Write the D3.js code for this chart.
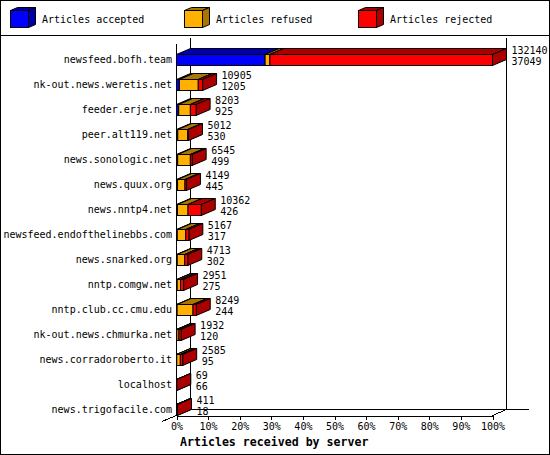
<!DOCTYPE html>
<html>
<head>
<meta charset="utf-8">
<script src="https://cdn.jsdelivr.net/npm/d3@7"></script>
<style>
  body { margin: 0; background: #fff; }
  svg text { font-family: "DejaVu Sans Mono", monospace; font-size: 10px; fill: #000; }
</style>
</head>
<body>
<div id="chart"></div>
<script>
// hosts, top to bottom
const hosts = [
  "newsfeed.bofh.team", "nk-out.news.weretis.net", "feeder.erje.net",
  "peer.alt119.net", "news.sonologic.net", "news.quux.org", "news.nntp4.net",
  "newsfeed.endofthelinebbs.com", "news.snarked.org", "nntp.comgw.net",
  "nntp.club.cc.cmu.edu", "nk-out.news.chmurka.net", "news.corradoroberto.it",
  "localhost", "news.trigofacile.com"
];
const accepted = [37049, 1205, 925, 530, 499, 445, 426, 317, 302, 275, 244, 120, 95, 66, 18];
// refused / rejected
const refused  = [2000, 7900, 4880, 4180, 5300, 3100, 4400, 3550, 3100, 1400, 6670, 900, 1500, 0, 50];
const rejected = [93091, 1800, 2398, 302, 746, 604, 5536, 1300, 1311, 1276, 1335, 912, 990, 3, 343];
const seriesNames = ["Articles accepted", "Articles refused", "Articles rejected"];
const percentTicks = [0, 10, 20, 30, 40, 50, 60, 70, 80, 90, 100];

const colors = [
  {front: "#0000ff", dark: "#0000aa"},
  {front: "#ffb000", dark: "#aa7500"},
  {front: "#ff0000", dark: "#aa0000"}
];

const W = 550, H = 455;
const dx = 14, dy = -6;      // depth of the 3d bars
const barHalf = 5.5;

let svg = d3.select("#chart").append("svg")
  .attr("width", W)
  .attr("height", H)
  .style("display", "block");

// frame + legend separator
svg.append("rect")
  .attr("x", 0.5).attr("y", 0.5)
  .attr("width", W - 1).attr("height", H - 1)
  .attr("fill", "#fff").attr("stroke", "#000");
svg.append("line")
  .attr("x1", 0).attr("x2", W).attr("y1", 35.5).attr("y2", 35.5)
  .attr("stroke", "#000");

// legend cubes
let legendX = [10, 184, 358];
let legend = svg.append("g").attr("class", "legend");
seriesNames.forEach((name, i) => {
  let x0 = legendX[i] + 0.5, y0 = 10.5, w = 18, h = 17, ldx = 7, ldy = -3;
  let g = legend.append("g");
  g.append("polygon")
    .attr("points", [[x0, y0], [x0 + w, y0], [x0 + w + ldx, y0 + ldy], [x0 + ldx, y0 + ldy]].join(" "))
    .attr("fill", colors[i].dark).attr("stroke", "#000");
  g.append("polygon")
    .attr("points", [[x0 + w, y0], [x0 + w + ldx, y0 + ldy], [x0 + w + ldx, y0 + h + ldy], [x0 + w, y0 + h]].join(" "))
    .attr("fill", colors[i].dark).attr("stroke", "#000");
  g.append("rect")
    .attr("x", x0).attr("y", y0).attr("width", w).attr("height", h)
    .attr("fill", colors[i].front).attr("stroke", "#000");
  g.append("text")
    .attr("x", legendX[i] + 32).attr("y", 23)
    .text(name);
});

let totals = hosts.map((h, i) => accepted[i] + refused[i] + rejected[i]);

let scaleY = d3.scalePoint()
  .domain(hosts)
  .range([59.5, 409.5]);

let scaleX = d3.scaleLinear()
  .domain([0, d3.max(totals)])
  .range([176.5, 492.5]);

let scalePct = d3.scaleLinear()
  .domain([0, 100])
  .range([176.5, 492.5]);

let x0 = scalePct(0), x1 = scalePct(100);
let floorY = 415.5;

// back wall and floor
let walls = svg.append("g").attr("stroke", "#000").attr("shape-rendering", "crispEdges");
walls.append("line").attr("x1", x0 + dx).attr("x2", x0 + dx).attr("y1", 38).attr("y2", floorY + dy);
walls.append("line").attr("x1", x1 + dx).attr("x2", x1 + dx).attr("y1", 38).attr("y2", floorY + dy);
walls.append("line").attr("x1", x0 + dx).attr("x2", 529).attr("y1", floorY + dy).attr("y2", floorY + dy);
walls.append("line").attr("x1", 162).attr("y1", floorY + 6).attr("x2", x0 + dx).attr("y2", floorY + dy);
walls.append("line").attr("x1", x1).attr("y1", floorY).attr("x2", x1 + dx).attr("y2", floorY + dy);

// bars
let bars = svg.append("g").attr("class", "bars");
hosts.forEach((host, i) => {
  let cy = scaleY(host);
  let top = Math.round(cy - barHalf) + 0.5, bot = Math.round(cy + barHalf) + 0.5;
  let vals = [accepted[i], refused[i], rejected[i]];
  let start = 0;
  let g = bars.append("g").attr("class", "bar");
  vals.forEach((v, s) => {
    if (v <= 0) return;
    let a = scaleX(start), b = scaleX(start + v);
    start += v;
    g.append("polygon")
      .attr("points", [[a, top], [b, top], [b + dx, top + dy], [a + dx, top + dy]].join(" "))
      .attr("fill", colors[s].dark).attr("stroke", "#000");
    g.append("polygon")
      .attr("points", [[b, top], [b + dx, top + dy], [b + dx, bot + dy], [b, bot]].join(" "))
      .attr("fill", colors[s].dark).attr("stroke", "#000");
    g.append("rect")
      .attr("x", a).attr("y", top)
      .attr("width", b - a).attr("height", bot - top)
      .attr("fill", colors[s].front).attr("stroke", "#000");
  });
  let end = scaleX(totals[i]) + dx + 5;
  g.append("text").attr("x", end).attr("y", cy - 6).text(totals[i]);
  g.append("text").attr("x", end).attr("y", cy + 5).text(accepted[i]);

  svg.append("text")
    .attr("x", 172).attr("y", cy + 3.5)
    .attr("text-anchor", "end")
    .text(host);
});

// front left edge
svg.append("line")
  .attr("x1", x0).attr("x2", x0).attr("y1", 44).attr("y2", floorY)
  .attr("stroke", "#000").attr("shape-rendering", "crispEdges");

// percentage axis on the front floor edge
let axisBottom = d3.axisBottom(scalePct)
  .tickValues(percentTicks)
  .tickFormat(d => d + "%")
  .tickSizeInner(4)
  .tickSizeOuter(0);

let ax = svg.append("g")
  .attr("class", "axisBottom")
  .attr("transform", "translate(0," + floorY + ")")
  .call(axisBottom);
ax.selectAll("path, line").attr("stroke", "#000").attr("shape-rendering", "crispEdges");
ax.selectAll("text")
  .attr("y", 7)
  .style("font-family", "DejaVu Sans Mono, monospace")
  .style("font-size", "10px")
  .attr("fill", "#000");

svg.append("text")
  .attr("x", 180).attr("y", 446)
  .style("font-weight", "bold")
  .style("font-size", "11.6px")
  .text("Articles received by server");
</script>
</body>
</html>
